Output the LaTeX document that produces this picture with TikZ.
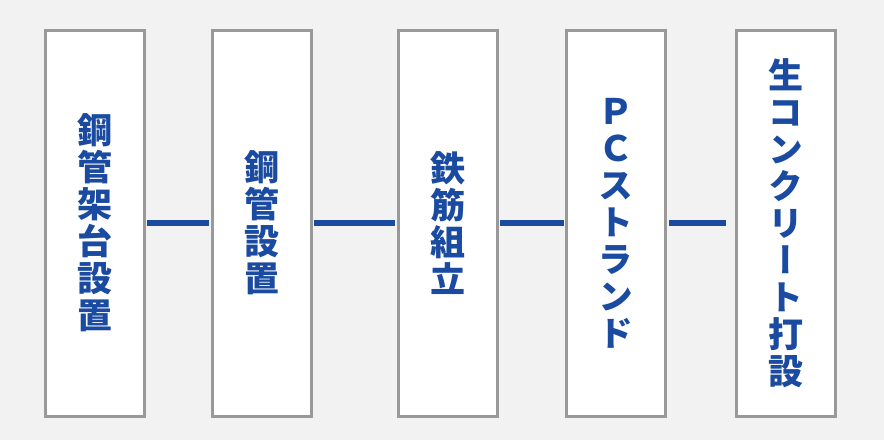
\documentclass[tikz,border=0pt]{standalone}
\usepackage{fontspec}
\newfontfamily\cjkv[RawFeature={+vert}]{Noto Sans CJK JP}
\definecolor{bgc}{HTML}{F2F2F2}
\definecolor{bordc}{HTML}{999999}
\definecolor{bluec}{HTML}{1A4BA0}
\begin{document}
\begin{tikzpicture}[x=1pt,y=-1pt,
  stepbox/.style={draw=bordc, line width=3pt, fill=white, minimum width=99pt,
    minimum height=386pt, inner sep=0pt, align=center, text=bluec,
    font=\cjkv\bfseries\fontsize{35}{37}\selectfont},
  conn/.style={draw=bluec, line width=5.5pt, shorten <=1.5pt, shorten >=1.5pt}]
\fill[bgc] (0,0) rectangle (884,440);
\useasboundingbox (0,0) rectangle (884,440);
\node[stepbox] (b1) at (94.5,223) {鋼\\管\\架\\台\\設\\置};
\node[stepbox] (b2) at (261.9,223) {鋼\\管\\設\\置};
\node[stepbox] (b3) at (447.9,223) {鉄\\筋\\組\\立};
\node[stepbox] (b4) at (616,223) {Ｐ\\Ｃ\\ス\\ト\\ラ\\ン\\ド};
\node[stepbox] (b5) at (785.9,223) {生\\コ\\ン\\ク\\リ\\ー\\ト\\打\\設};
\coordinate (c5) at (727.5,223);
\draw[conn] (b1.east) -- (b2.west);
\draw[conn] (b2.east) -- (b3.west);
\draw[conn] (b3.east) -- (b4.west);
\draw[conn] (b4.east) -- (c5);
\end{tikzpicture}
\end{document}
